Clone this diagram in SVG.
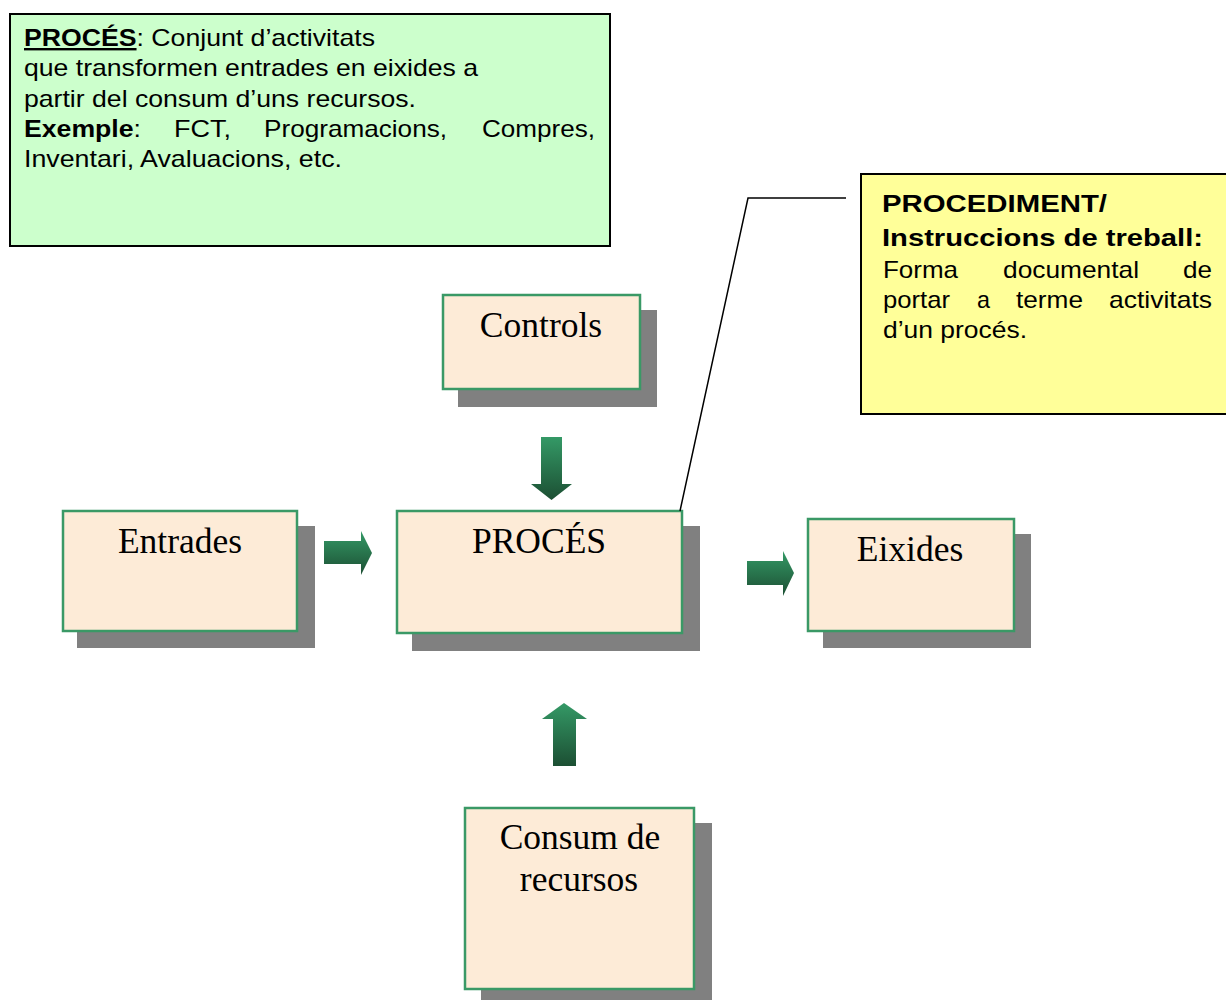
<svg xmlns="http://www.w3.org/2000/svg" width="1226" height="1000" viewBox="0 0 1226 1000">
<defs>
<linearGradient id="ag" x1="0" y1="0" x2="0" y2="1">
<stop offset="0" stop-color="#349966"/>
<stop offset="1" stop-color="#1C4F33"/>
</linearGradient>
<style>
.shadow{fill:#808080}
.box{fill:#FDEBD7;stroke:#3A9966;stroke-width:2.5}
.tn{font-family:"Liberation Serif","Times New Roman",serif;font-size:35.5px;fill:#000;text-anchor:middle}
.ar{font-family:"Liberation Sans",Arial,sans-serif;font-size:24px;fill:#000}
.b{font-weight:bold}
.arrow{fill:url(#ag)}
</style>
</defs>
<rect width="1226" height="1000" fill="#fff"/>

<g id="note-proces">
<rect x="10" y="14" width="600" height="232" fill="#CCFFCC" stroke="#000" stroke-width="2"/>
<text class="ar" x="24" y="46" textLength="351" lengthAdjust="spacingAndGlyphs"><tspan class="b" text-decoration="underline">PROCÉS</tspan>: Conjunt d’activitats</text>
<text class="ar" x="24" y="76" textLength="454" lengthAdjust="spacingAndGlyphs">que transformen entrades en eixides a</text>
<text class="ar" x="24" y="107" textLength="392" lengthAdjust="spacingAndGlyphs">partir del consum d’uns recursos.</text>
<text class="ar" x="24" y="137" textLength="117" lengthAdjust="spacingAndGlyphs"><tspan class="b">Exemple</tspan>:</text>
<text class="ar" x="174" y="137" textLength="57" lengthAdjust="spacingAndGlyphs">FCT,</text>
<text class="ar" x="264" y="137" textLength="183" lengthAdjust="spacingAndGlyphs">Programacions,</text>
<text class="ar" x="482" y="137" textLength="113" lengthAdjust="spacingAndGlyphs">Compres,</text>
<text class="ar" x="24" y="167" textLength="318" lengthAdjust="spacingAndGlyphs">Inventari, Avaluacions, etc.</text>
</g>

<g id="note-procediment">
<rect x="861" y="174" width="370" height="240" fill="#FFFF99" stroke="#000" stroke-width="2"/>
<text class="ar b" x="882" y="212" textLength="225" lengthAdjust="spacingAndGlyphs">PROCEDIMENT/</text>
<text class="ar b" x="882" y="246" textLength="321" lengthAdjust="spacingAndGlyphs">Instruccions de treball:</text>
<text class="ar" x="883" y="278" textLength="75" lengthAdjust="spacingAndGlyphs">Forma</text>
<text class="ar" x="1003" y="278" textLength="136" lengthAdjust="spacingAndGlyphs">documental</text>
<text class="ar" x="1183" y="278" textLength="29" lengthAdjust="spacingAndGlyphs">de</text>
<text class="ar" x="883" y="308" textLength="67" lengthAdjust="spacingAndGlyphs">portar</text>
<text class="ar" x="977" y="308" textLength="13" lengthAdjust="spacingAndGlyphs">a</text>
<text class="ar" x="1016" y="308" textLength="67" lengthAdjust="spacingAndGlyphs">terme</text>
<text class="ar" x="1109" y="308" textLength="103" lengthAdjust="spacingAndGlyphs">activitats</text>
<text class="ar" x="883" y="338" textLength="144" lengthAdjust="spacingAndGlyphs">d’un procés.</text>
</g>

<g id="controls">
<rect class="shadow" x="458" y="310" width="199" height="97"/>
<rect class="box" x="443" y="295" width="197" height="94"/>
<text class="tn" x="541" y="337">Controls</text>
</g>

<g id="entrades">
<rect class="shadow" x="77" y="526" width="238" height="122"/>
<rect class="box" x="63" y="511" width="234" height="120"/>
<text class="tn" x="180" y="553">Entrades</text>
</g>

<g id="proces">
<rect class="shadow" x="412" y="526" width="288" height="125"/>
<rect class="box" x="397" y="511" width="285" height="122"/>
<text class="tn" x="539" y="553">PROCÉS</text>
</g>

<g id="eixides">
<rect class="shadow" x="823" y="534" width="208" height="114"/>
<rect class="box" x="808" y="519" width="206" height="112"/>
<text class="tn" x="910" y="561">Eixides</text>
</g>

<g id="consum">
<rect class="shadow" x="481" y="823" width="231" height="177"/>
<rect class="box" x="465" y="808" width="229" height="181"/>
<text class="tn" x="580" y="849">Consum de</text>
<text class="tn" x="579" y="891">recursos</text>
</g>

<g id="connectors">
<polygon class="arrow" points="541,437 562,437 562,484 572,484 551.5,500 531,484 541,484"/>
<polygon class="arrow" points="324,541 361,541 361,531 372,553 361,575 361,564 324,564"/>
<polygon class="arrow" points="747,561 783,561 783,551 794,573 783,596 783,585 747,585"/>
<polygon class="arrow" points="553,766 576,766 576,719 587,719 564,703 542,719 553,719"/>
<polyline points="680,511 748,198 846,198" fill="none" stroke="#000" stroke-width="1.5"/>
</g>
</svg>
